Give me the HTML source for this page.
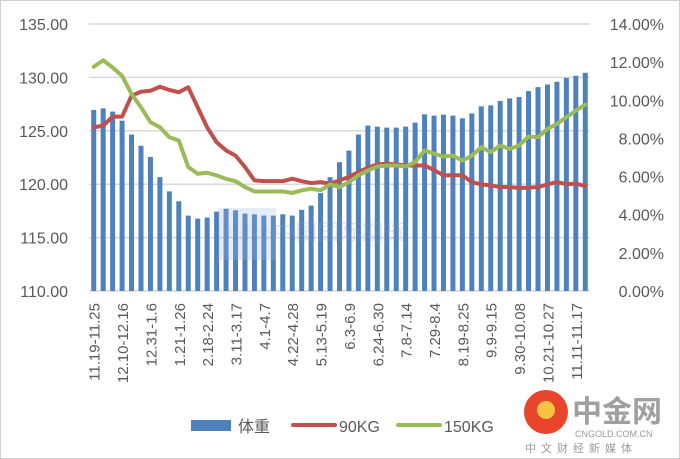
<!DOCTYPE html>
<html><head><meta charset="utf-8"><style>
html,body{margin:0;padding:0;background:#fff}
#wrap{position:relative;width:680px;height:459px;overflow:hidden;background:#fff}
svg text{font-family:"Liberation Sans","Noto Sans CJK SC",sans-serif}
</style></head><body>
<div id="wrap">
<svg id="chart" width="680" height="459" viewBox="0 0 680 459">
<rect x="0.5" y="0.5" width="679" height="458" fill="#fff" stroke="#d0d0d0"/>
<g id="grid"></g><g id="bars"></g><g id="lines"></g><g id="axes"></g>
<g opacity="0.25">
<rect x="218" y="208" width="58" height="52" fill="#9db8e0"/>
<text x="228" y="240" font-size="22" fill="#8aa0c0">cifco中国国际期货</text>
</g>
<g>
<rect x="191" y="420" width="40" height="11" fill="#4f81bd"/>
<text x="238" y="432" font-size="16" fill="#595959">体重</text>
<line x1="293" y1="425" x2="335" y2="425" stroke="#c0504d" stroke-width="4" stroke-linecap="round"/>
<text x="339" y="432" font-size="16" fill="#595959">90KG</text>
<line x1="398" y1="425" x2="440" y2="425" stroke="#9bbb59" stroke-width="4" stroke-linecap="round"/>
<text x="444" y="432" font-size="16" fill="#595959">150KG</text>
</g>
<g>
<circle cx="546" cy="412" r="22" fill="#e8452c"/>
<circle cx="546" cy="410" r="9" fill="#f6c343"/>
<text x="572" y="422" font-size="30" font-weight="bold" fill="#a0a0a0">中金网</text>
<text x="575" y="437" font-size="9" fill="#9a9a9a">CNGOLD.COM.CN</text>
<text x="525" y="452" font-size="11" fill="#9a9a9a" letter-spacing="5">中文财经新媒体</text>
</g>
</svg>
</div>
<script>
const weights=[126.95,127.1,126.8,125.95,124.65,123.6,122.55,120.66,119.33,118.4,117.06,116.78,116.87,117.43,117.7,117.56,117.25,117.18,117.06,117.06,117.18,117.06,117.6,118.0,119.17,120.66,122.06,123.15,124.65,125.49,125.39,125.3,125.3,125.39,125.76,126.54,126.42,126.51,126.42,126.17,126.63,127.29,127.38,127.79,128.03,128.16,128.72,129.09,129.34,129.59,129.96,130.15,130.43];
const pct90=[8.58,8.67,9.14,9.14,10.24,10.45,10.5,10.71,10.54,10.42,10.68,9.63,8.58,7.8,7.37,7.1,6.5,5.8,5.76,5.76,5.76,5.89,5.76,5.66,5.71,5.63,5.8,5.98,6.24,6.46,6.64,6.67,6.64,6.58,6.58,6.58,6.34,6.07,6.07,6.07,5.71,5.59,5.54,5.45,5.45,5.4,5.42,5.45,5.59,5.71,5.6,5.63,5.5];
const pct150=[11.76,12.1,11.72,11.28,10.33,9.63,8.85,8.59,8.06,7.89,6.5,6.15,6.2,6.06,5.88,5.76,5.45,5.22,5.22,5.22,5.22,5.14,5.28,5.36,5.28,5.59,5.45,5.71,6.06,6.32,6.53,6.58,6.58,6.53,6.76,7.37,7.2,7.05,7.1,6.84,7.1,7.54,7.28,7.63,7.45,7.63,8.1,8.06,8.5,8.76,9.11,9.46,9.77];
const xLabels=["11.19-11.25","12.10-12.16","12.31-1.6","1.21-1.26","2.18-2.24","3.11-3.17","4.1-4.7","4.22-4.28","5.13-5.19","6.3-6.9","6.24-6.30","7.8-7.14","7.29-8.4","8.19-8.25","9.9-9.15","9.30-10.08","10.21-10.27","11.11-11.17"];
const leftTicks=[110,115,120,125,130,135];
const rightTicks=[0,2,4,6,8,10,12,14];
const labelEvery=3;
const NS="http://www.w3.org/2000/svg";
const L=89,R=590,T=24,B=291;
const n=weights.length, step=(R-L)/n;
const xc=i=>L+step*(i+0.5);
const yL=v=>B-(v-110)/(135-110)*(B-T);
const yR=v=>B-v/14*(B-T);
function mk(tag,attrs,parent){const e=document.createElementNS(NS,tag);for(const k in attrs)e.setAttribute(k,attrs[k]);parent.appendChild(e);return e;}
const grid=document.getElementById('grid'),bars=document.getElementById('bars'),lines=document.getElementById('lines'),axes=document.getElementById('axes');
leftTicks.forEach(v=>{
 const g=mk('line',{x1:L,x2:R,y1:yL(v),y2:yL(v),stroke:'#d9d9d9','stroke-width':1.5},grid);
 
 
 const t=mk('text',{x:68,y:yL(v)+6,'text-anchor':'end','font-size':16,fill:'#595959'},axes);
 t.textContent=v.toFixed(2);
 
 
});
rightTicks.forEach(v=>{
 const t=mk('text',{x:664,y:yR(v)+6,'text-anchor':'end','font-size':16,fill:'#595959'},axes);
 t.textContent=v.toFixed(2)+'%';
 
 
});
weights.forEach((v,i)=>{
 const r=mk('rect',{x:xc(i)-2.5,y:yL(v),width:5,height:B-yL(v),fill:'#4f81bd'},bars);
 
 
});
[[pct90,'#c0504d','line-90kg'],[pct150,'#9bbb59','line-150kg']].forEach(([d,c,nm])=>{
 const p=mk('polyline',{points:d.map((v,i)=>xc(i)+','+yR(v)).join(' '),fill:'none',stroke:c,'stroke-width':4,'stroke-linejoin':'round','stroke-linecap':'round'},lines);
 
 
});
xLabels.forEach((s,k)=>{
 const x=xc(k*labelEvery)+6,y=303;
 const t=mk('text',{x:x,y:y,'text-anchor':'end','font-size':15,fill:'#595959',transform:`rotate(-90 ${x} ${y})`},axes);
 t.textContent=s;
 
 
});
</script>
</body></html>
